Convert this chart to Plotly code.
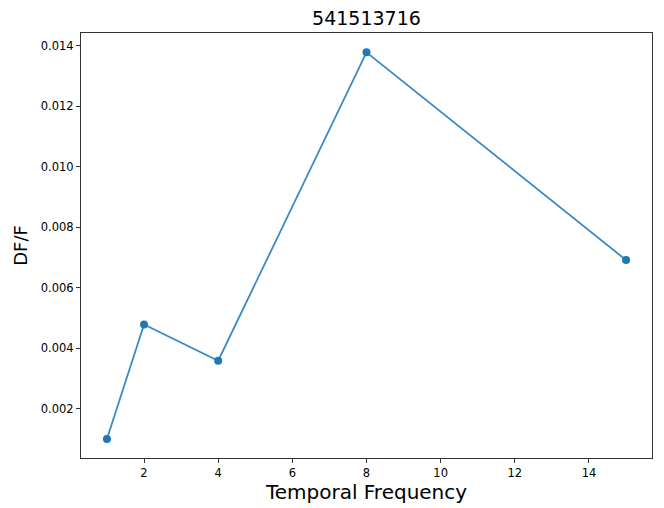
import plotly.graph_objects as go

freq = [1, 2, 4, 8, 15]
dff = [0.00099, 0.00478, 0.00358, 0.01378, 0.00691]
title = "541513716"
xlabel = "Temporal Frequency"
ylabel = "DF/F"

fig = go.Figure()
fig.add_trace(go.Scatter(
    x=freq, y=dff, mode="lines+markers",
    line=dict(color="#3a8bc4", width=1.8),
    marker=dict(color="#1f77b4", size=8),
    showlegend=False,
))

font = "DejaVu Sans"
fig.update_layout(
    width=664, height=508,
    paper_bgcolor="white", plot_bgcolor="white",
    margin=dict(l=81, r=12, t=33, b=50),
    title=dict(text=title, x=0.5, xanchor="center",
               yref="container", y=1 - 18.5 / 508, yanchor="middle",
               font=dict(family=font, size=19, color="black"),
               xref="paper"),
    font=dict(family=font, size=11, color="black"),
)
fig.update_xaxes(
    range=[0.3, 15.7], tickvals=[2, 4, 6, 8, 10, 12, 14],
    automargin=False,
    showgrid=False, zeroline=False,
    showline=True, linecolor="#333", linewidth=1, mirror=True,
    ticks="outside", ticklen=4, tickcolor="#333",
    tickfont=dict(family=font, size=11.5),
    title=dict(text=xlabel, font=dict(family=font, size=20), standoff=3),
)
fig.update_yaxes(
    range=[0.000364, 0.01442],
    tickvals=[0.002, 0.004, 0.006, 0.008, 0.010, 0.012, 0.014],
    tickformat=".3f",
    automargin=False,
    showgrid=False, zeroline=False,
    showline=True, linecolor="#333", linewidth=1, mirror=True,
    ticks="outside", ticklen=4, tickcolor="#333",
    tickfont=dict(family=font, size=11.5),
    title=dict(text=ylabel, font=dict(family=font, size=18), standoff=8),
)

fig.write_html("out.html")
